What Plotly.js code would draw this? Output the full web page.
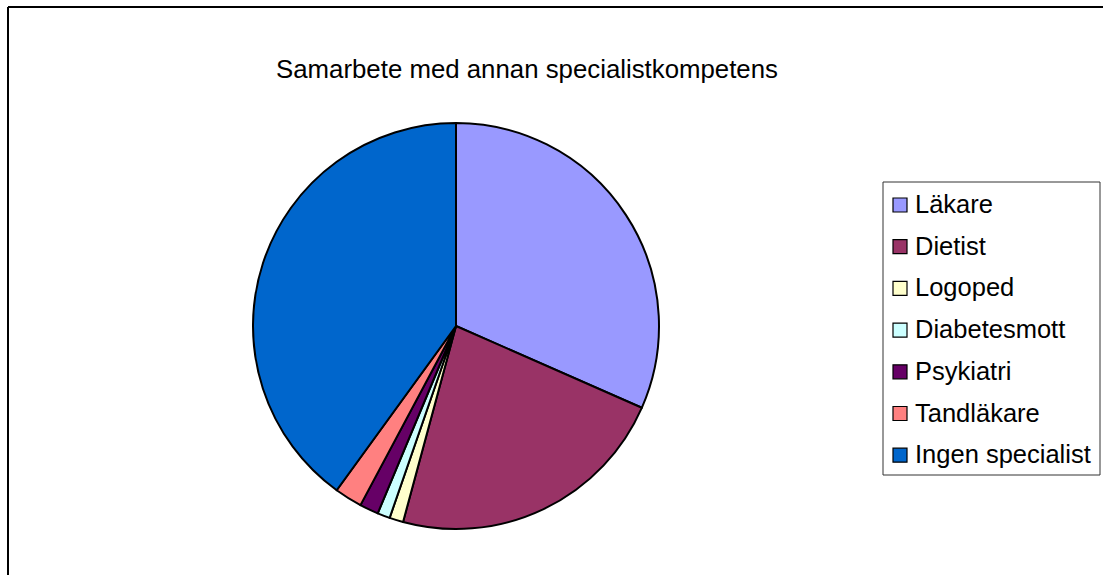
<!DOCTYPE html>
<html>
<head>
<meta charset="utf-8">
<script src="https://cdn.plot.ly/plotly-3.0.1.min.js"></script>
<style>
  html, body { margin: 0; padding: 0; background: #ffffff; }
  #chart { width: 1103px; height: 575px; }
</style>
</head>
<body>
<div id="chart"></div>
<script>
// ---- data (in percent) ----
var categories = ["Läkare", "Dietist", "Logoped", "Diabetesmott", "Psykiatri", "Tandläkare", "Ingen specialist"];
var shares = [31.6, 22.6, 1.1, 1.0, 1.5, 2.2, 40.0];
var sliceColors = ["#9999FF", "#993366", "#FFFFCC", "#CCFFFF", "#660066", "#FF8080", "#0066CC"];
var chartTitle = "Samarbete med annan specialistkompetens";

// ---- layout helpers (pixel -> paper) ----
var W = 1103, H = 575;
function px(x) { return x / W; }
function py(y) { return 1 - y / H; }
var FONT = "Liberation Sans, Arial, Helvetica, sans-serif";

var trace = {
  type: "pie",
  labels: categories,
  values: shares,
  sort: false,
  direction: "clockwise",
  rotation: 0,
  textinfo: "none",
  hoverinfo: "label+percent",
  showlegend: false,
  marker: { colors: sliceColors, line: { color: "#000000", width: 2 } },
  domain: { x: [px(253), px(659)], y: [py(529), py(123)] }
};

var shapes = [
  // outer chart frame (top + left visible)
  { type: "line", xref: "paper", yref: "paper", x0: px(8), x1: px(1103), y0: py(7), y1: py(7), line: { color: "#000000", width: 2 } },
  { type: "line", xref: "paper", yref: "paper", x0: px(8), x1: px(8), y0: py(7), y1: py(575), line: { color: "#000000", width: 2 } },
  // legend box
  { type: "rect", xref: "paper", yref: "paper", x0: px(883), x1: px(1100), y0: py(182), y1: py(475), line: { color: "#333333", width: 1 }, fillcolor: "rgba(0,0,0,0)" }
];
var annotations = [];
var rowGap = 41.7;
for (var i = 0; i < categories.length; i++) {
  var cy = 205 + rowGap * i;
  shapes.push({
    type: "rect", xref: "paper", yref: "paper",
    x0: px(893), x1: px(907), y0: py(cy + 7), y1: py(cy - 7),
    fillcolor: sliceColors[i], line: { color: "#000000", width: 1.2 }
  });
  annotations.push({
    xref: "paper", yref: "paper", x: px(913), y: py(204 + rowGap * i),
    xanchor: "left", yanchor: "middle", showarrow: false,
    text: categories[i],
    font: { family: FONT, size: 25.5, color: "#000000" }
  });
}

var layout = {
  width: W, height: H,
  margin: { l: 0, r: 0, t: 0, b: 0 },
  paper_bgcolor: "#ffffff",
  plot_bgcolor: "#ffffff",
  title: {
    text: chartTitle,
    x: px(527), xanchor: "center", xref: "paper",
    y: py(69), yanchor: "middle", yref: "container",
    font: { family: FONT, size: 25.8, color: "#000000" }
  },
  showlegend: false,
  shapes: shapes,
  annotations: annotations
};

Plotly.newPlot("chart", [trace], layout, { displayModeBar: false, staticPlot: true });
</script>
</body>
</html>
